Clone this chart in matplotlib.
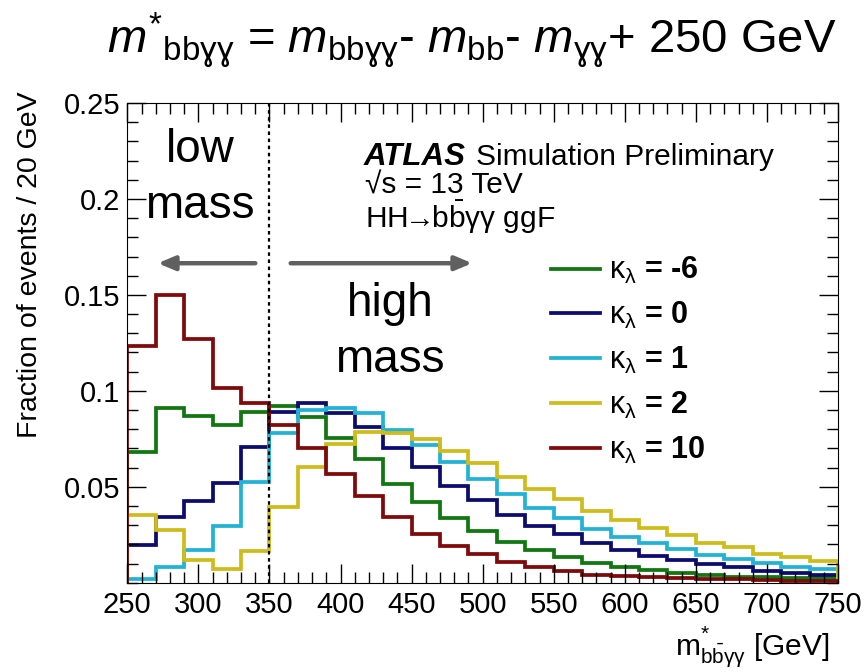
import numpy as np
import matplotlib
matplotlib.use("Agg")
import matplotlib.pyplot as plt
from matplotlib.ticker import MultipleLocator, FixedLocator, FixedFormatter

plt.rcParams['font.family'] = ['Liberation Sans', 'DejaVu Sans']
plt.rcParams['mathtext.fontset'] = 'custom'
plt.rcParams['mathtext.rm'] = 'Liberation Sans'
plt.rcParams['mathtext.it'] = 'Liberation Sans:italic'
plt.rcParams['mathtext.bf'] = 'Liberation Sans:bold'

edges = np.arange(250, 751, 20)

kl_m6 = [0.068, 0.091, 0.087, 0.082, 0.089, 0.092, 0.0865, 0.0755, 0.0644, 0.0514,
         0.0422, 0.0339, 0.0269, 0.021, 0.017, 0.0135, 0.0101, 0.0083, 0.0066, 0.0052,
         0.004, 0.0031, 0.0028, 0.0025, 0.0023]
kl_0 = [0.0196, 0.034, 0.0427, 0.0518, 0.0708, 0.0891, 0.0934, 0.0885, 0.0813, 0.070,
        0.0601, 0.0504, 0.0431, 0.0353, 0.0297, 0.0252, 0.0205, 0.017, 0.0139, 0.0118,
        0.0096, 0.008, 0.0063, 0.0049, 0.004]
kl_1 = [0.0018, 0.0083, 0.017, 0.0295, 0.0526, 0.0778, 0.090, 0.0911, 0.0885, 0.0795,
        0.0717, 0.063, 0.0538, 0.046, 0.039, 0.0339, 0.0281, 0.0236, 0.0205, 0.0174,
        0.0144, 0.0123, 0.0101, 0.0083, 0.0071]
kl_2 = [0.0353, 0.0274, 0.0118, 0.0071, 0.0167, 0.0393, 0.0601, 0.0722, 0.0786, 0.0778,
        0.0747, 0.0686, 0.0622, 0.0552, 0.0488, 0.0436, 0.0372, 0.0327, 0.0286, 0.0248,
        0.0208, 0.0188, 0.0149, 0.0135, 0.0115]
kl_10 = [0.1234, 0.1498, 0.1268, 0.1016, 0.0936, 0.082, 0.070, 0.0565, 0.0452, 0.0344,
         0.0254, 0.0193, 0.0149, 0.0106, 0.0083, 0.0059, 0.004, 0.0035, 0.003, 0.0025,
         0.002, 0.0018, 0.0015, 0.001, 0.001]

series = [("-6", kl_m6, "#117711"), ("0", kl_0, "#0c0c6e"), ("1", kl_1, "#22b2d4"),
          ("2", kl_2, "#cfbc1c"), ("10", kl_10, "#7e0a0a")]

fig = plt.figure(figsize=(8.65, 6.72), dpi=100)
ax = fig.add_axes([127.3/865, 1-582.7/672, (838-127.3)/865, (582.7-103)/672])

for lab, vals, col in series:
    ax.stairs(vals, edges, color=col, lw=2.7,
              label=r"$\mathrm{κ}_{\mathrm{λ}}$ = " + lab)

ax.axvline(350, color="black", ls=(0, (1.6, 1.6)), lw=1.6, zorder=5)

ax.set_xlim(250, 750)
ax.set_ylim(0, 0.25)
ax.xaxis.set_major_locator(MultipleLocator(50))
ax.xaxis.set_minor_locator(MultipleLocator(10))
ax.yaxis.set_major_locator(FixedLocator([0.05, 0.1, 0.15, 0.2, 0.25]))
ax.yaxis.set_major_formatter(FixedFormatter(["0.05", "0.1", "0.15", "0.2", "0.25"]))
ax.yaxis.set_minor_locator(MultipleLocator(0.01))
ax.tick_params(which="both", direction="in", top=True, right=True, labelsize=21)
ax.tick_params(which="major", length=14, width=1)
ax.tick_params(which="minor", length=8, width=1)
ax.tick_params(axis="x", which="major", pad=6)
ax.tick_params(axis="y", which="major", pad=5)

ax.set_ylabel("Fraction of events / 20 GeV", fontsize=20.5)
ax.yaxis.set_label_coords((43-127.3)/710.7, 0.662)

def px(x, y):
    return x/865, 1-y/672

fig.text(*px(830, 647), r"$\mathrm{m}^{*}_{\mathrm{b\bar{b}\gamma\gamma}}$ [GeV]",
         ha="right", va="center", fontsize=21.5)

fig.text(*px(472, 40),
         r"$m^{*}{}_{\mathrm{bbɣɣ}}$ = $m_{\mathrm{bbɣɣ}}$- $m_{\mathrm{bb}}$- $m_{\mathrm{ɣɣ}}$+ 250 GeV",
         ha="center", va="center", fontsize=34)

fig.text(*px(200, 150), "low", ha="center", va="center", fontsize=33)
fig.text(*px(200, 206), "mass", ha="center", va="center", fontsize=33)
fig.text(*px(390, 304), "high", ha="center", va="center", fontsize=33)
fig.text(*px(390, 360), "mass", ha="center", va="center", fontsize=33)

ay = 0.1665
ax.annotate("", xy=(269.5, ay), xytext=(342, ay),
            arrowprops=dict(arrowstyle="-|>,head_length=1.0,head_width=0.42", color="#606060", lw=3.2))
ax.annotate("", xy=(494.6, ay), xytext=(363, ay),
            arrowprops=dict(arrowstyle="-|>,head_length=1.0,head_width=0.42", color="#606060", lw=3.2))

fig.text(*px(364, 157), "ATLAS", ha="left", va="center", fontsize=22.5,
         fontweight="bold", fontstyle="italic")
fig.text(*px(476, 157), "Simulation Preliminary", ha="left", va="center", fontsize=21.5)
fig.text(*px(365, 186), "√s = 13 TeV", ha="left", va="center", fontsize=21.5)
fig.text(*px(365, 217), r"HH$\!\!\rightarrow\!\!$b$\mathrm{\bar{b}}$γγ ggF", ha="left", va="center", fontsize=21.5)

leg = ax.legend(loc="upper left", bbox_to_anchor=px(536, 240),
                bbox_transform=fig.transFigure, frameon=False,
                handlelength=1.6, labelspacing=0.45, borderpad=0, handletextpad=0.3,
                prop={"weight": "bold", "size": 22})

fig.savefig("out.png", dpi=100)
